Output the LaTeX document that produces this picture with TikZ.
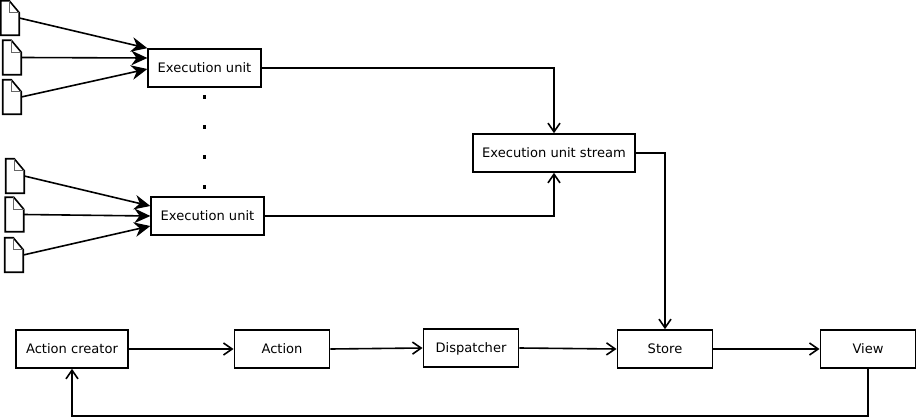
\documentclass[tikz,border=0pt]{standalone}
\usepackage{fontspec}
\setsansfont{DejaVu Sans}
\usetikzlibrary{arrows.meta, positioning, calc}

\tikzset{
  unit/.style={draw, line width=1.2pt, fill=white, minimum height=28.5pt,
               inner sep=0pt, text height=7pt, text depth=0.4pt, font=\fontsize{9.8}{11}\sffamily},
  filearrow/.style={-{Stealth[length=12pt,width=11pt]}, line width=1.2pt},
  flow/.style={-{Straight Barb[length=6.5pt,width=9pt]}, line width=1.2pt},
  dotmark/.style={fill=black, inner sep=0pt, minimum size=2.4pt},
  docfile/.style={inner sep=0pt, minimum width=13.5pt, minimum height=25.5pt}
}
% a sheet with a folded corner
\newcommand{\docfile}[2]{
  \node[docfile] (#1) at (#2) {};
  \draw[line width=1.2pt] ($(#1.north east)+(0,-9pt)$) -- ($(#1.north east)+(-7.5pt,0)$)
    -- (#1.north west) -- (#1.south west) -- (#1.south east) -- cycle;
  \draw[line width=.7pt, black!60] ($(#1.north east)+(-7.5pt,0)$) |- ($(#1.north east)+(0,-9pt)$);
}

\begin{document}
\begin{tikzpicture}[x=0.75pt, y=-0.75pt]
  \useasboundingbox (0,0) rectangle (916,417);

  \docfile{doca}{10,18}
  \docfile{docb}{12,57.5}
  \docfile{docc}{12,97}
  \docfile{docd}{15,176}
  \docfile{doce}{14.5,214.5}
  \docfile{docf}{14,255}

  \node[unit, minimum width=84.5pt] (eua) at (204.5,68) {Execution unit};
  \node[unit, minimum width=84.5pt] (eub) at (207.5,216) {Execution unit};
  \node[unit, minimum width=121.5pt] (stream) at (554,153) {Execution unit stream};

  \node[unit, minimum width=84pt] (creator) at (72,349) {Action creator};
  \node[unit, minimum width=71.5pt] (action) at (282,349) {Action};
  \node[unit, minimum width=71.5pt] (disp) at (471,348) {Dispatcher};
  \node[unit, minimum width=71.5pt] (store) at (665,349) {Store};
  \node[unit, minimum width=71.5pt] (view) at (868,349) {View};

  \foreach \i/\y in {a/97,b/127,c/157,d/187}
    \node[dotmark] (dot\i) at (204.5,\y) {};

  \draw[filearrow] (doca.east) -- (eua.north west);
  \draw[filearrow] (docb.east) -- ([yshift=7.5pt]eua.west);
  \draw[filearrow] (docc.east) -- ([yshift=-0.75pt]eua.west);
  \draw[filearrow] (docd.east) -- ([yshift=7.5pt]eub.west);
  \draw[filearrow] (doce.east) -- (eub.west);
  \draw[filearrow] (docf.east) -- ([yshift=-7.5pt]eub.west);

  \draw[flow] (eua.east) -| (stream.north);
  \draw[flow] (eub.east) -| (stream.south);
  \draw[flow] (stream.east) -| (store.north);

  \draw[flow] (creator.east) -- (action.west);
  \draw[flow] (action.east) -- (disp.west);
  \draw[flow] (disp.east) -- (store.west);
  \draw[flow] (store.east) -- (view.west);

  \coordinate (back) at (470,416);
  \draw[flow] (view.south) |- (back) -| (creator.south);
\end{tikzpicture}
\end{document}
